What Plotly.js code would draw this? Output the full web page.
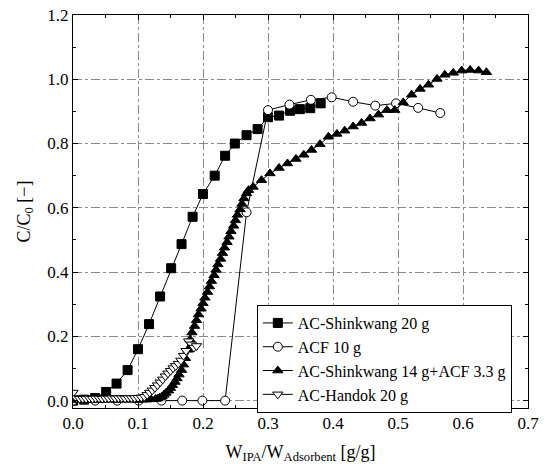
<!DOCTYPE html>
<html>
<head>
<meta charset="utf-8">
<script src="https://cdn.plot.ly/plotly-3.0.1.min.js"></script>
<style>html,body{margin:0;padding:0;background:#fff;}#chart{width:547px;height:467px;}</style>
</head>
<body>
<div id="chart"></div>
<script>
// AC-Shinkwang 20 g
var sqX = [0, 0.017, 0.034, 0.051, 0.067, 0.084, 0.100, 0.117, 0.134, 0.151, 0.167, 0.184, 0.200, 0.218, 0.234, 0.249, 0.267, 0.284, 0.300, 0.317, 0.334, 0.349, 0.365, 0.381];
var sqY = [0.0, 0.003, 0.008, 0.027, 0.053, 0.095, 0.160, 0.238, 0.324, 0.412, 0.487, 0.572, 0.643, 0.700, 0.762, 0.800, 0.826, 0.845, 0.882, 0.887, 0.902, 0.907, 0.910, 0.925];
// ACF 10 g
var ciX = [0, 0.034, 0.068, 0.101, 0.136, 0.168, 0.199, 0.234, 0.267, 0.300, 0.333, 0.366, 0.398, 0.431, 0.465, 0.497, 0.531, 0.565];
var ciY = [0, 0, 0, 0, 0, 0, 0, 0, 0.586, 0.904, 0.921, 0.936, 0.944, 0.930, 0.918, 0.925, 0.911, 0.895];
// AC-Shinkwang 14 g + ACF 3.3 g
var trX = [0, 0.007, 0.013, 0.020, 0.027, 0.033, 0.040, 0.047, 0.053, 0.060, 0.067, 0.073, 0.080, 0.087, 0.093, 0.100, 0.107, 0.113, 0.120, 0.127,
  0.130, 0.133, 0.137, 0.140, 0.143, 0.147, 0.150, 0.153, 0.157, 0.160, 0.163, 0.167, 0.170, 0.173, 0.177, 0.180, 0.183, 0.187, 0.190, 0.193,
  0.197, 0.200, 0.203, 0.207, 0.210, 0.213, 0.217, 0.220, 0.223, 0.227, 0.230, 0.233, 0.237, 0.240, 0.243, 0.247, 0.250, 0.253, 0.257, 0.260,
  0.263, 0.267, 0.270, 0.277, 0.290, 0.303, 0.317, 0.330, 0.343, 0.355, 0.367, 0.380, 0.393, 0.406, 0.418, 0.431, 0.444, 0.457, 0.470, 0.483,
  0.495, 0.508, 0.521, 0.534, 0.547, 0.560, 0.572, 0.585, 0.598, 0.611, 0.624, 0.636];
var trY = [0.003, 0.002, 0.003, 0.002, 0.003, 0.003, 0.002, 0.003, 0.003, 0.003, 0.002, 0.003, 0.003, 0.003, 0.003, 0.002, 0.003, 0.003, 0.004, 0.005,
  0.006, 0.009, 0.013, 0.018, 0.024, 0.031, 0.039, 0.048, 0.058, 0.069, 0.081, 0.095, 0.112, 0.132, 0.158, 0.190, 0.212, 0.232, 0.250, 0.268,
  0.286, 0.303, 0.320, 0.338, 0.355, 0.372, 0.390, 0.407, 0.424, 0.441, 0.459, 0.476, 0.493, 0.510, 0.527, 0.544, 0.561, 0.578, 0.595, 0.612,
  0.629, 0.645, 0.655, 0.665, 0.686, 0.707, 0.724, 0.738, 0.752, 0.765, 0.780, 0.798, 0.821, 0.830, 0.840, 0.853, 0.864, 0.878, 0.890, 0.904,
  0.904, 0.928, 0.952, 0.970, 0.983, 1.001, 1.014, 1.020, 1.027, 1.029, 1.027, 1.022];
// AC-Handok 20 g
var hdX = [0, 0.005, 0.010, 0.015, 0.020, 0.025, 0.030, 0.035, 0.040, 0.045, 0.050, 0.055, 0.060, 0.065, 0.070, 0.075, 0.080, 0.085, 0.090, 0.095,
  0.100, 0.105, 0.110, 0.114, 0.118, 0.122, 0.126, 0.130, 0.134, 0.138, 0.142, 0.146, 0.150, 0.154, 0.158, 0.162, 0.166, 0.170, 0.174, 0.178,
  0.182, 0.186, 0.190];
var hdY = [0.025, 0.008, 0.006, 0.006, 0.006, 0.007, 0.006, 0.007, 0.007, 0.006, 0.007, 0.007, 0.008, 0.007, 0.008, 0.008, 0.007, 0.008, 0.008, 0.008,
  0.009, 0.010, 0.012, 0.018, 0.025, 0.032, 0.040, 0.048, 0.057, 0.066, 0.076, 0.085, 0.093, 0.101, 0.108, 0.115, 0.125, 0.140, 0.155, 0.185,
  0.175, 0.165, 0.170];

var names = ['AC-Shinkwang 20 g', 'ACF 10 g', 'AC-Shinkwang 14 g+ACF 3.3 g', 'AC-Handok 20 g'];
var xTicks = [0, 0.1, 0.2, 0.3, 0.4, 0.5, 0.6, 0.7];
var yTicks = [0, 0.2, 0.4, 0.6, 0.8, 1.0, 1.2];

var serif = 'Liberation Serif, Times New Roman, serif';
function tr(x, y, name, sym, fill) {
  return {x: x, y: y, name: name, type: 'scatter', mode: 'lines+markers',
    line: {color: 'black', width: 1},
    marker: {symbol: sym, size: 9, color: fill, line: {color: 'black', width: 1}}};
}
var data = [
  tr(sqX, sqY, names[0], 'square', 'black'),
  tr(ciX, ciY, names[1], 'circle', 'white'),
  tr(trX, trY, names[2], 'triangle-up', 'black'),
  tr(hdX, hdY, names[3], 'triangle-down', 'white')
];
var axisCommon = {
  showline: true, linecolor: 'black', linewidth: 1, mirror: 'ticks',
  ticks: 'inside', ticklen: 5, tickcolor: 'black', tickwidth: 1,
  showgrid: true, gridcolor: '#8a8a8a', gridwidth: 1, griddash: 'dashdot',
  zeroline: false, tickfont: {family: serif, size: 17, color: 'black'}
};
var layout = {
  width: 547, height: 467,
  margin: {l: 73, r: 19, t: 15, b: 59},
  paper_bgcolor: 'white', plot_bgcolor: 'white',
  font: {family: serif, color: 'black'},
  showlegend: true,
  legend: {x: 0.404, y: 0.262, xanchor: 'left', yanchor: 'top',
    bordercolor: 'black', borderwidth: 1, bgcolor: 'white',
    font: {family: serif, size: 16, color: 'black'}},
  xaxis: Object.assign({}, axisCommon, {
    range: [0, 0.7], tickvals: xTicks, ticktext: xTicks.map(function(v){return v.toFixed(1);}),
    minor: {dtick: 0.05, tick0: 0, ticks: 'inside', ticklen: 3, tickcolor: 'black', showgrid: false},
    title: {text: 'W<sub>IPA</sub>/W<sub>Adsorbent</sub> [g/g]', font: {family: serif, size: 18, color: 'black'}, standoff: 12}
  }),
  yaxis: Object.assign({}, axisCommon, {
    range: [-0.023, 1.2], tickvals: yTicks, ticktext: yTicks.map(function(v){return v.toFixed(1);}),
    minor: {dtick: 0.1, tick0: 0, ticks: 'inside', ticklen: 3, tickcolor: 'black', showgrid: false},
    title: {text: 'C/C<sub>0</sub> [\u2212]', font: {family: serif, size: 18, color: 'black'}, standoff: 12}
  })
};
Plotly.newPlot('chart', data, layout, {displayModeBar: false, staticPlot: true});
</script>
</body>
</html>
